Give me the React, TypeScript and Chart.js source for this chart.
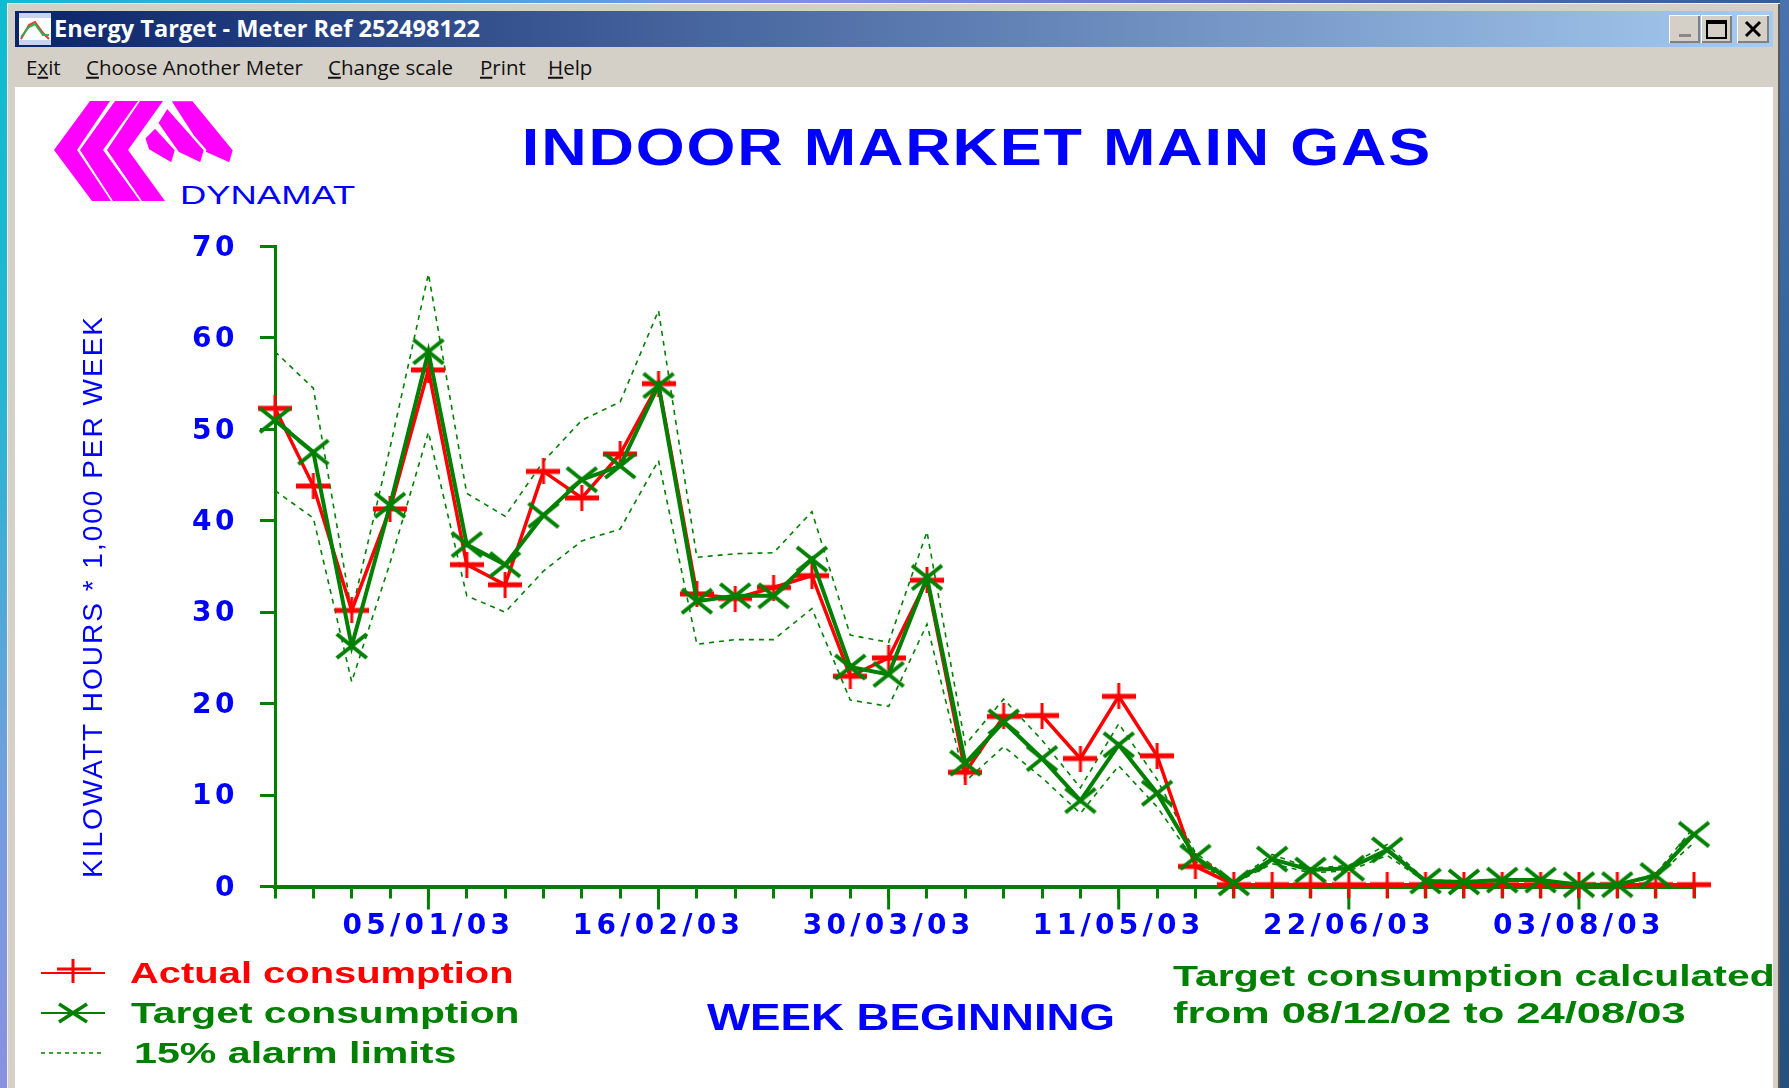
import React, { useEffect, useRef } from "react";
import { Chart, registerables } from "chart.js";

Chart.register(...registerables);

const weeks = ["08/12/02","15/12/02","22/12/02","29/12/02","05/01/03","12/01/03","19/01/03","26/01/03","02/02/03","09/02/03","16/02/03","23/02/03","02/03/03","09/03/03","16/03/03","23/03/03","30/03/03","06/04/03","13/04/03","20/04/03","27/04/03","04/05/03","11/05/03","18/05/03","25/05/03","01/06/03","08/06/03","15/06/03","22/06/03","29/06/03","06/07/03","13/07/03","20/07/03","27/07/03","03/08/03","10/08/03","17/08/03","24/08/03"];
const labelledWeeks = ["05/01/03","16/02/03","30/03/03","11/05/03","22/06/03","03/08/03"];
const actual = [52.3,43.8,30.2,41.3,56.5,35.2,33,45.4,42.5,47.3,55,32,31.5,32.7,34,23,25,33.5,12.5,18.6,18.7,14,20.8,14.3,2.2,0.2,0.2,0.2,0.2,0.2,0.2,0.2,0.2,0.2,0.2,0.2,0.2,0.2];
const target = [51,47.5,26.3,41.7,58.5,37.4,35.2,40.6,44.5,46,54.8,31.2,31.8,31.8,35.8,24,23.2,33.8,13.5,18,14,9.4,15.5,10.2,3.2,0.4,3,1.8,2,4,0.6,0.5,0.7,0.7,0.2,0.2,1.2,5.7];
const upperLimit = [58.5,54.5,30,48,67,43,40.5,46.5,51,53,63,36,36.4,36.5,41,27.5,26.7,38.8,15.5,20.5,16,10.8,17.8,11.7,3.7,0.5,3.5,2,2.3,4.6,0.7,0.6,0.8,0.8,0.2,0.2,1.4,6.5];
const lowerLimit = [43.3,40.3,22.4,35.4,49.7,31.8,30,34.5,37.8,39.1,46.6,26.5,27,27,30.4,20.4,19.7,28.7,11.5,15.3,11.9,8,13.2,8.7,2.7,0.3,2.5,1.5,1.7,3.4,0.5,0.4,0.6,0.6,0.2,0.2,1,4.8];

const RED = "#ff0000";
const GREEN = "#008000";
const BLUE = "#0000ff";
const MAGENTA = "#ff00ff";

function plusMarker() {
  const c = document.createElement("canvas");
  c.width = 34; c.height = 26;
  const g = c.getContext("2d")!;
  g.fillStyle = RED;
  g.fillRect(0, 10.5, 34, 5);
  g.fillRect(15.5, 0, 3, 26);
  return c;
}
function crossMarker() {
  const c = document.createElement("canvas");
  c.width = 34; c.height = 28;
  const g = c.getContext("2d")!;
  g.strokeStyle = GREEN;
  g.lineWidth = 4;
  g.beginPath();
  g.moveTo(2, 2); g.lineTo(32, 26);
  g.moveTo(32, 2); g.lineTo(2, 26);
  g.stroke();
  return c;
}

function Fit({ text, x, right, cy, font, color }: any) {
  const ref = (el: HTMLSpanElement | null) => {
    if (!el) return;
    el.style.transform = "translateY(-50%)";
    const w = el.offsetWidth;
    el.style.transform = `translateY(-50%) scaleX(${(right - x) / w})`;
  };
  return (
    <span
      ref={ref}
      style={{ position: "absolute", left: x, top: cy, font, color, whiteSpace: "pre", transformOrigin: "left center", lineHeight: 1 }}
    >
      {text}
    </span>
  );
}

function MenuItem({ x, cy, before, u, after }: any) {
  return (
    <span style={{ position: "absolute", left: x, top: cy, transform: "translateY(-50%)", font: "20.5px 'Open Sans'", color: "#111", whiteSpace: "pre", lineHeight: 1 }}>
      {before}<u>{u}</u>{after}
    </span>
  );
}

function Sample({ top, color, dashed, mark }: any) {
  return (
    <svg style={{ position: "absolute", left: 41, top: top - 16, width: 64, height: 32 }} viewBox="0 0 64 32">
      <line x1="0" x2="64" y1="16" y2="16" stroke={color} strokeWidth={dashed ? 1.5 : 2} strokeDasharray={dashed ? "4 4" : undefined} />
      {mark === "plus" && (
        <g stroke={color} fill="none">
          <path d="M16 12H50" strokeWidth="3" />
          <path d="M32 2V26" strokeWidth="3" />
        </g>
      )}
      {mark === "cross" && <path d="M18 7L46 25M46 7L18 25" stroke={color} strokeWidth="3.5" fill="none" />}
    </svg>
  );
}

function WinButton({ x, w, children }: any) {
  return (
    <svg style={{ position: "absolute", left: x, top: 15, width: w, height: 28, background: "#d4d0c8", boxShadow: "inset 1px 1px 0 #fff, inset -2px -2px 0 #808080" }} viewBox={`0 0 ${w} 28`}>
      {children}
    </svg>
  );
}

export default function App() {
  const ref = useRef<HTMLCanvasElement>(null);
  useEffect(() => {
    const wrapPlugin = {
      id: "wrap",
      afterLayout(chart: any) {
        if (chart.$wrapped) return;
        chart.$wrapped = true;
        const ctx = chart.ctx;
        const wrap = (obj: any, name: string, spacing: string, dx: number, dy: number) => {
          const orig = obj[name];
          obj[name] = function (...args: any[]) {
            ctx.save();
            ctx.letterSpacing = spacing;
            ctx.translate(dx, dy);
            orig.apply(this, args);
            ctx.restore();
          };
        };
        wrap(chart.scales.x, "drawLabels", "4.3px", 0, -1);
        wrap(chart.scales.y, "drawLabels", "3.5px", 0, 2);
        wrap(chart.scales.y, "drawTitle", "2px", 0, 30);
        const origTitle = chart.titleBlock.draw;
        chart.titleBlock.draw = function (...args: any[]) {
          ctx.save();
          ctx.letterSpacing = "1.5px";
          ctx.translate(977, 0);
          ctx.scale(1.21, 1);
          ctx.translate(-847, 0);
          origTitle.apply(this, args);
          ctx.restore();
        };
      },
      beforeDatasetsDraw(chart: any) {
        const x = chart.scales.x;
        const c = chart.ctx;
        c.save();
        c.strokeStyle = GREEN;
        c.lineWidth = 3;
        weeks.forEach((w, i) => {
          if (labelledWeeks.includes(w)) {
            const px = x.getPixelForValue(i);
            c.beginPath();
            c.moveTo(px, x.top);
            c.lineTo(px, x.top + 23);
            c.stroke();
          }
        });
        c.restore();
      },
    };
    const limitStyle = {
      borderColor: GREEN, borderWidth: 1.6, borderDash: [5, 5], pointRadius: 0, order: 2, clip: false as any, tension: 0,
    };
    const chart = new Chart(ref.current!, {
      type: "line",
      data: {
        labels: weeks,
        datasets: [
          { label: "Target consumption", data: target, borderColor: GREEN, backgroundColor: GREEN, borderWidth: 4, pointStyle: crossMarker() as any, pointRadius: 12, order: 0, clip: false as any },
          { label: "Actual consumption", data: actual, borderColor: RED, backgroundColor: RED, borderWidth: 3.5, pointStyle: plusMarker() as any, pointRadius: 12, order: 1, clip: false as any },
          { label: "15% alarm limits", data: upperLimit, ...limitStyle },
          { label: "15% alarm limits (lower)", data: lowerLimit, ...limitStyle },
        ],
      },
      options: {
        animation: false,
        responsive: false,
        events: [],
        layout: { padding: { left: 0, right: 95, top: 0, bottom: 0 } },
        plugins: {
          legend: { display: false },
          tooltip: { enabled: false },
          title: {
            display: true,
            text: "INDOOR MARKET MAIN GAS",
            color: BLUE,
            font: { family: "'Liberation Sans'", size: 52, weight: "bold", lineHeight: 1.2 },
            padding: { top: 119.5, bottom: 64.6 },
          },
        },
        scales: {
          x: {
            grid: { drawOnChartArea: false, color: GREEN, tickLength: 12, lineWidth: 3, tickWidth: 3, tickColor: GREEN },
            border: { color: GREEN, width: 4 },
            ticks: {
              autoSkip: false, maxRotation: 0, minRotation: 0, padding: 12, color: BLUE,
              font: { family: "'DejaVu Sans'", size: 28, weight: "bold" },
              callback: (_v: any, i: number) => (labelledWeeks.includes(weeks[i]) ? weeks[i] : ""),
            },
            afterFit: (s: any) => { s.height = 1088 - 886.5; },
          },
          y: {
            min: 0, max: 70,
            grid: { drawOnChartArea: false, color: GREEN, tickLength: 15, lineWidth: 3, tickWidth: 3, tickColor: GREEN },
            border: { color: GREEN, width: 3 },
            ticks: {
              stepSize: 10, padding: 22, color: BLUE,
              font: { family: "'DejaVu Sans'", size: 28, weight: "bold" },
            },
            title: {
              display: true,
              text: "KILOWATT HOURS * 1,000 PER WEEK",
              color: BLUE,
              font: { family: "'Liberation Sans'", size: 28, lineHeight: 1.2 },
              padding: { top: 77.8, bottom: 0 },
            },
            afterFit: (s: any) => { s.width = 275; },
          },
        },
      },
      plugins: [wrapPlugin],
    } as any);
    return () => chart.destroy();
  }, []);

  return (
    <div style={{ position: "absolute", left: 0, top: 0, width: 1789, height: 1088, overflow: "hidden", background: "linear-gradient(90deg,#10bccf 0,#7f8fe6 45%,#2f5f92 100%)" }}>
      <div style={{ position: "absolute", left: 0, top: 0, width: 7, height: 1088, background: "linear-gradient(180deg,#0fbccf 0,#24b6cf 35%,#6fa0dc 70%,#8a90e2 100%)" }} />
      <div style={{ position: "absolute", left: 1780, top: 0, width: 9, height: 1088, background: "linear-gradient(180deg,#4a73ad 0,#2c5d90 50%,#27507c 100%)" }} />
      <div style={{ position: "absolute", left: 7, top: 3, width: 1773, height: 1085, background: "#d4d0c8", boxShadow: "inset 1px 1px 0 #f4f2ec, inset -2px 0 0 #5a5a5a" }} />
      <div style={{ position: "absolute", left: 15, top: 11, width: 1758, height: 36, background: "linear-gradient(90deg,#0a246a 0,#a6caf0 100%)" }} />
      <svg style={{ position: "absolute", left: 19, top: 13, width: 32, height: 32, background: "#fff" }} viewBox="0 0 32 32">
        <rect x="0" y="0" width="32" height="5" fill="#c9d2ee" />
        <rect x="0" y="27" width="32" height="5" fill="#c9d2ee" />
        <path d="M2 26L10 12L16 9L24 20L30 26" stroke="#e83a3a" strokeWidth="2" fill="none" />
        <path d="M2 24L10 14L16 11L24 22L30 22" stroke="#2fae4b" strokeWidth="2" fill="none" />
      </svg>
      <Fit text="Energy Target - Meter Ref 252498122" x={54} right={480} cy={29} font="bold 22.5px 'Open Sans'" color="#fff" />
      <WinButton x={1669} w={31}><rect x="10" y="19" width="12" height="3" fill="#888" /></WinButton>
      <WinButton x={1701} w={31}><rect x="6" y="6" width="19" height="17" fill="none" stroke="#000" strokeWidth="2" /><rect x="6" y="5" width="19" height="4" fill="#000" /></WinButton>
      <WinButton x={1737} w={32}><path d="M9 7L23 21M23 7L9 21" stroke="#000" strokeWidth="3" /></WinButton>

      <MenuItem x={26} cy={67} before="E" u="x" after="it" />
      <MenuItem x={86} cy={67} before="" u="C" after="hoose Another Meter" />
      <MenuItem x={328} cy={67} before="" u="C" after="hange scale" />
      <MenuItem x={480} cy={67} before="" u="P" after="rint" />
      <MenuItem x={548} cy={67} before="" u="H" after="elp" />

      <div style={{ position: "absolute", left: 15, top: 87, width: 1758, height: 1001, background: "#fff" }} />

      <svg style={{ position: "absolute", left: 0, top: 0, width: 300, height: 260 }} viewBox="0 0 300 260">
        <g fill={MAGENTA}>
          <polygon points="54,150 90,101 110,101 77,150 111,201 92,201" />
          <polygon points="80,150 115,101 138,101 103,150 140,201 113,201" />
          <polygon points="107,150 140,101 163,101 128,150 165,201 142,201" />
          <g stroke="#fff" strokeWidth="2.5">
            <polygon points="170,100 193,100 234,150 230,164 203,152 172,104" />
            <polygon points="167,107 205,150 201,164 178,153 157,123" />
            <polygon points="155,127 176,150 172,164 148,150 144,138" />
          </g>
        </g>
      </svg>
      <Fit text="DYNAMAT" x={180} right={355} cy={195} font="26px 'Liberation Sans'" color={BLUE} />

      <canvas ref={ref} width={1789} height={1088} style={{ position: "absolute", left: 0, top: 0 }} />

      <Fit text="WEEK BEGINNING" x={707} right={1115} cy={1018} font="bold 36px 'Liberation Sans'" color={BLUE} />

      <Sample top={973} color={RED} mark="plus" />
      <Sample top={1013} color={GREEN} mark="cross" />
      <Sample top={1053} color={GREEN} dashed />
      <Fit text="Actual consumption" x={130} right={514} cy={973} font="bold 29px 'Liberation Sans'" color={RED} />
      <Fit text="Target consumption" x={131} right={520} cy={1013} font="bold 29px 'Liberation Sans'" color={GREEN} />
      <Fit text="15% alarm limits" x={134} right={456} cy={1053} font="bold 29px 'Liberation Sans'" color={GREEN} />
      <Fit text="Target consumption calculated" x={1173} right={1774} cy={976} font="bold 29px 'Liberation Sans'" color={GREEN} />
      <Fit text="from 08/12/02 to 24/08/03" x={1173} right={1686} cy={1013} font="bold 29px 'Liberation Sans'" color={GREEN} />
    </div>
  );
}
